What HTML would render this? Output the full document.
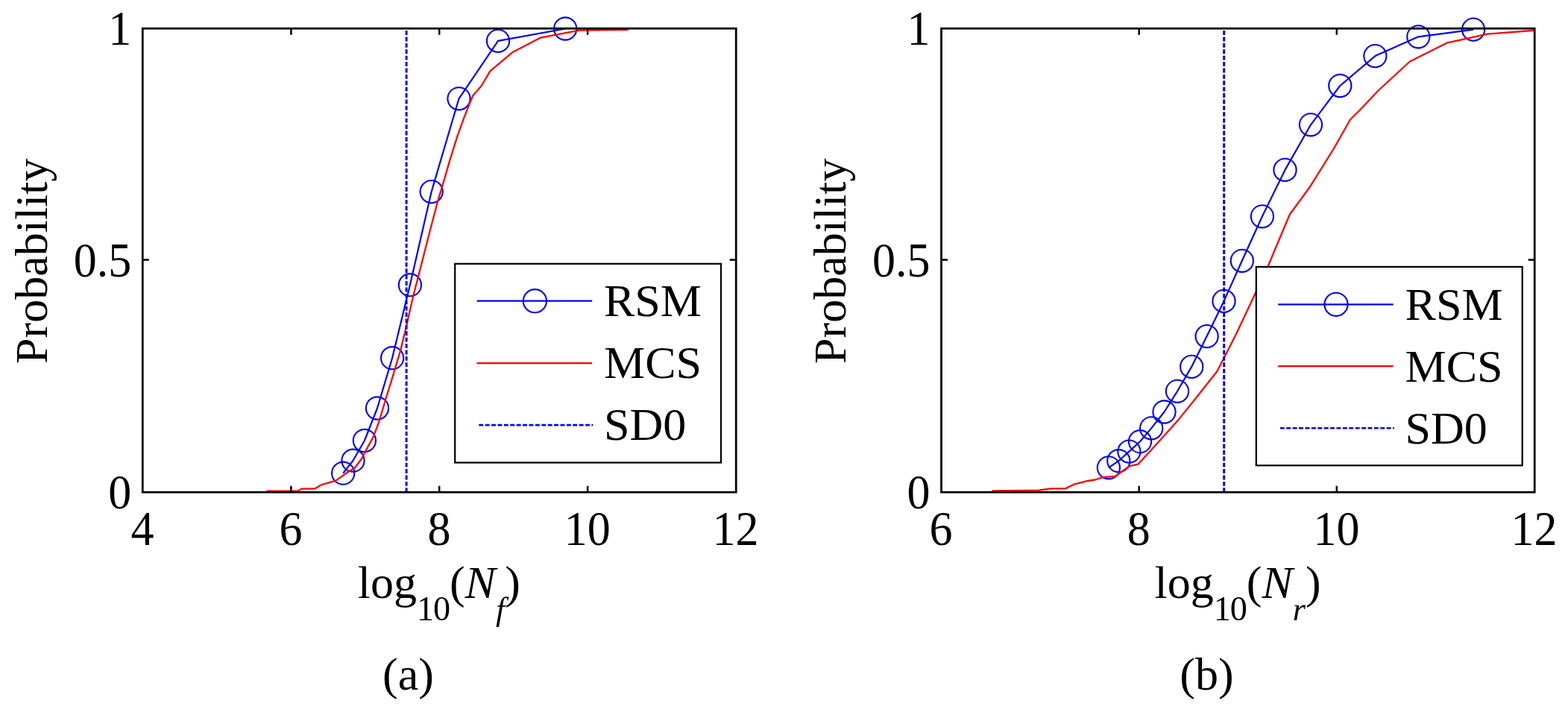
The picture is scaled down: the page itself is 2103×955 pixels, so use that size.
<!DOCTYPE html>
<html lang="en">
<head>
<meta charset="utf-8">
<title>Probability vs log10(N)</title>
<style>
html,body{margin:0;padding:0;background:#fff;}
body{width:2103px;height:955px;overflow:hidden;}
svg{display:block;}
svg text{font-family:"Liberation Serif",serif;font-size:62px;fill:#000;}
</style>
</head>
<body>
<svg xmlns="http://www.w3.org/2000/svg" width="2103" height="955" viewBox="0 0 2103 955">
<rect x="0" y="0" width="2103" height="955" fill="#fff"/>
<g id="plot-a">
<clipPath id="clip1"><rect x="171.3" y="18.2" width="835.9" height="662.0"/></clipPath>
<g clip-path="url(#clip1)" fill="none" stroke-linejoin="round">
<polyline points="460.2,634.7 473.5,617.7 488.9,591.0 506.0,547.5 526.1,480.2 549.9,382.2 578.7,257.1 615.5,132.3 668.0,54.9 758.2,38.5" stroke="#0000ff" stroke-width="2.20"/>
<circle cx="460.2" cy="634.7" r="15.1" stroke="#0000ff" stroke-width="2.10"/>
<circle cx="473.5" cy="617.7" r="15.1" stroke="#0000ff" stroke-width="2.10"/>
<circle cx="488.9" cy="591.0" r="15.1" stroke="#0000ff" stroke-width="2.10"/>
<circle cx="506.0" cy="547.5" r="15.1" stroke="#0000ff" stroke-width="2.10"/>
<circle cx="526.1" cy="480.2" r="15.1" stroke="#0000ff" stroke-width="2.10"/>
<circle cx="549.9" cy="382.2" r="15.1" stroke="#0000ff" stroke-width="2.10"/>
<circle cx="578.7" cy="257.1" r="15.1" stroke="#0000ff" stroke-width="2.10"/>
<circle cx="615.5" cy="132.3" r="15.1" stroke="#0000ff" stroke-width="2.10"/>
<circle cx="668.0" cy="54.9" r="15.1" stroke="#0000ff" stroke-width="2.10"/>
<circle cx="758.2" cy="38.5" r="15.1" stroke="#0000ff" stroke-width="2.10"/>
<polyline points="357.3,658.7 400.3,658.3 404.5,655.6 422.3,655.6 431.7,650.1 450.5,644.6 468.3,632.0 475.7,627.8 485.1,615.3 489.3,606.9 500.8,585.9 508.6,565.0 517.2,535.7 524.3,513.0 537.2,470.0 545.9,433.8 554.5,396.0 563.8,360.0 576.6,310.0 586.5,272.2 595.9,240.8 603.3,215.0 613.3,183.1 622.7,156.9 631.1,135.9 634.0,128.8 645.8,115.0 657.4,95.4 687.2,70.3 725.0,50.6 777.0,40.7 842.7,39.8" stroke="#ff0000" stroke-width="2.30"/>
<line x1="545.1" y1="660.2" x2="545.1" y2="38.2" stroke="#0000ff" stroke-width="3.00" stroke-dasharray="5.9 2.5"/>
</g>
<rect x="191.3" y="38.2" width="795.9" height="622.0" fill="none" stroke="#000" stroke-width="2.75"/>
<path d="M390.4 660.2v-8.5 M390.4 38.2v8.5 M589.2 660.2v-8.5 M589.2 38.2v8.5 M788.1 660.2v-8.5 M788.1 38.2v8.5 M191.3 348.6h8.5 M987.2 348.6h-8.5" fill="none" stroke="#000" stroke-width="2.50"/>
<text transform="translate(191.1 731.3) scale(1 1.055)" text-anchor="middle">4</text>
<text transform="translate(390.0 731.3) scale(1 1.055)" text-anchor="middle">6</text>
<text transform="translate(588.9 731.3) scale(1 1.055)" text-anchor="middle">8</text>
<text transform="translate(787.7 731.3) scale(1 1.055)" text-anchor="middle">10</text>
<text transform="translate(986.6 731.3) scale(1 1.055)" text-anchor="middle">12</text>
<text transform="translate(176.3 60.3) scale(1 1.055)" text-anchor="end">1</text>
<text transform="translate(176.3 371.3) scale(1 1.055)" text-anchor="end">0.5</text>
<text transform="translate(176.3 682.4) scale(1 1.055)" text-anchor="end">0</text>
<text transform="translate(62.8 350.2) rotate(-90)" text-anchor="middle" font-size="61.4">Probability</text>
<text x="479.7" y="801.8">log<tspan dy="29.8" font-size="46.2" letter-spacing="-1.1">10</tspan><tspan dy="-29.8">(</tspan><tspan font-style="italic">N</tspan><tspan dy="29.8" font-size="44" font-style="italic">f</tspan><tspan dy="-29.8">)</tspan></text>
<text x="547.4" y="925.4" text-anchor="middle">(a)</text>
<rect x="610.2" y="353.8" width="356.8" height="266.7" fill="#fff" stroke="#000" stroke-width="2.20"/>
<line x1="639.6" y1="403.7" x2="794.1" y2="403.7" stroke="#0000ff" stroke-width="2.20"/>
<circle cx="717.4" cy="403.7" r="15.6" fill="none" stroke="#0000ff" stroke-width="2.10"/>
<line x1="639.6" y1="487.1" x2="794.1" y2="487.1" stroke="#ff0000" stroke-width="2.30"/>
<line x1="642.3" y1="570.1" x2="795.3" y2="570.1" stroke="#0000ff" stroke-width="2.60" stroke-dasharray="5.9 2.5"/>
<text x="810.0" y="424.0">RSM</text>
<text x="810.0" y="507.4">MCS</text>
<text x="810.0" y="590.4">SD0</text>
</g>
<g id="plot-b">
<clipPath id="clip2"><rect x="1242.5" y="18.2" width="835.7" height="662.0"/></clipPath>
<g clip-path="url(#clip2)" fill="none" stroke-linejoin="round">
<polyline points="1486.9,627.3 1500.3,618.2 1514.4,605.6 1529.0,592.2 1544.2,574.4 1561.5,552.5 1579.0,524.8 1598.2,491.9 1618.6,451.1 1641.5,403.9 1665.8,349.8 1692.9,290.3 1723.5,227.9 1758.0,167.3 1797.3,115.0 1844.4,75.1 1902.3,49.3 1976.1,39.6" stroke="#0000ff" stroke-width="2.20"/>
<circle cx="1486.9" cy="627.3" r="15.1" stroke="#0000ff" stroke-width="2.10"/>
<circle cx="1500.3" cy="618.2" r="15.1" stroke="#0000ff" stroke-width="2.10"/>
<circle cx="1514.4" cy="605.6" r="15.1" stroke="#0000ff" stroke-width="2.10"/>
<circle cx="1529.0" cy="592.2" r="15.1" stroke="#0000ff" stroke-width="2.10"/>
<circle cx="1544.2" cy="574.4" r="15.1" stroke="#0000ff" stroke-width="2.10"/>
<circle cx="1561.5" cy="552.5" r="15.1" stroke="#0000ff" stroke-width="2.10"/>
<circle cx="1579.0" cy="524.8" r="15.1" stroke="#0000ff" stroke-width="2.10"/>
<circle cx="1598.2" cy="491.9" r="15.1" stroke="#0000ff" stroke-width="2.10"/>
<circle cx="1618.6" cy="451.1" r="15.1" stroke="#0000ff" stroke-width="2.10"/>
<circle cx="1641.5" cy="403.9" r="15.1" stroke="#0000ff" stroke-width="2.10"/>
<circle cx="1665.8" cy="349.8" r="15.1" stroke="#0000ff" stroke-width="2.10"/>
<circle cx="1692.9" cy="290.3" r="15.1" stroke="#0000ff" stroke-width="2.10"/>
<circle cx="1723.5" cy="227.9" r="15.1" stroke="#0000ff" stroke-width="2.10"/>
<circle cx="1758.0" cy="167.3" r="15.1" stroke="#0000ff" stroke-width="2.10"/>
<circle cx="1797.3" cy="115.0" r="15.1" stroke="#0000ff" stroke-width="2.10"/>
<circle cx="1844.4" cy="75.1" r="15.1" stroke="#0000ff" stroke-width="2.10"/>
<circle cx="1902.3" cy="49.3" r="15.1" stroke="#0000ff" stroke-width="2.10"/>
<circle cx="1976.1" cy="39.6" r="15.1" stroke="#0000ff" stroke-width="2.10"/>
<polyline points="1330.6,658.3 1393.3,657.7 1409.0,655.3 1428.9,655.4 1441.5,649.3 1458.2,645.1 1468.7,643.5 1479.2,640.2 1495.9,638.8 1514.8,625.2 1526.5,622.6 1538.1,610.0 1559.5,586.5 1581.0,562.4 1602.0,536.5 1622.9,510.0 1632.1,498.5 1640.7,482.0 1657.5,449.0 1673.8,414.6 1684.5,391.8 1700.8,356.8 1717.8,316.2 1729.8,287.7 1757.2,250.2 1788.5,200.0 1810.9,160.5 1824.5,147.0 1848.5,121.5 1890.9,82.5 1940.3,57.7 1995.0,45.6 2057.0,40.8" stroke="#ff0000" stroke-width="2.30"/>
<line x1="1641.7" y1="660.2" x2="1641.7" y2="38.2" stroke="#0000ff" stroke-width="3.00" stroke-dasharray="5.9 2.5"/>
</g>
<rect x="1262.5" y="38.2" width="795.7" height="622.0" fill="none" stroke="#000" stroke-width="2.75"/>
<path d="M1527.7 660.2v-8.5 M1527.7 38.2v8.5 M1792.8 660.2v-8.5 M1792.8 38.2v8.5 M1262.5 348.6h8.5 M2058.2 348.6h-8.5" fill="none" stroke="#000" stroke-width="2.50"/>
<text transform="translate(1262.1 731.3) scale(1 1.055)" text-anchor="middle">6</text>
<text transform="translate(1527.3 731.3) scale(1 1.055)" text-anchor="middle">8</text>
<text transform="translate(1792.4 731.3) scale(1 1.055)" text-anchor="middle">10</text>
<text transform="translate(2057.6 731.3) scale(1 1.055)" text-anchor="middle">12</text>
<text transform="translate(1247.5 60.3) scale(1 1.055)" text-anchor="end">1</text>
<text transform="translate(1247.5 371.3) scale(1 1.055)" text-anchor="end">0.5</text>
<text transform="translate(1247.5 682.4) scale(1 1.055)" text-anchor="end">0</text>
<text transform="translate(1134.0 350.2) rotate(-90)" text-anchor="middle" font-size="61.4">Probability</text>
<text x="1548.6" y="801.8">log<tspan dy="29.8" font-size="46.2" letter-spacing="-1.1">10</tspan><tspan dy="-29.8">(</tspan><tspan font-style="italic">N</tspan><tspan dy="29.8" font-size="44" font-style="italic">r</tspan><tspan dy="-29.8">)</tspan></text>
<text x="1618.5" y="925.4" text-anchor="middle">(b)</text>
<rect x="1684.8" y="357.9" width="356.9" height="266.4" fill="#fff" stroke="#000" stroke-width="2.20"/>
<line x1="1714.2" y1="408.3" x2="1868.7" y2="408.3" stroke="#0000ff" stroke-width="2.20"/>
<circle cx="1792.0" cy="408.3" r="15.6" fill="none" stroke="#0000ff" stroke-width="2.10"/>
<line x1="1714.2" y1="491.2" x2="1868.7" y2="491.2" stroke="#ff0000" stroke-width="2.30"/>
<line x1="1716.9" y1="574.2" x2="1869.9" y2="574.2" stroke="#0000ff" stroke-width="2.60" stroke-dasharray="5.9 2.5"/>
<text x="1884.6" y="428.6">RSM</text>
<text x="1884.6" y="511.5">MCS</text>
<text x="1884.6" y="594.5">SD0</text>
</g>
</svg>
</body>
</html>
